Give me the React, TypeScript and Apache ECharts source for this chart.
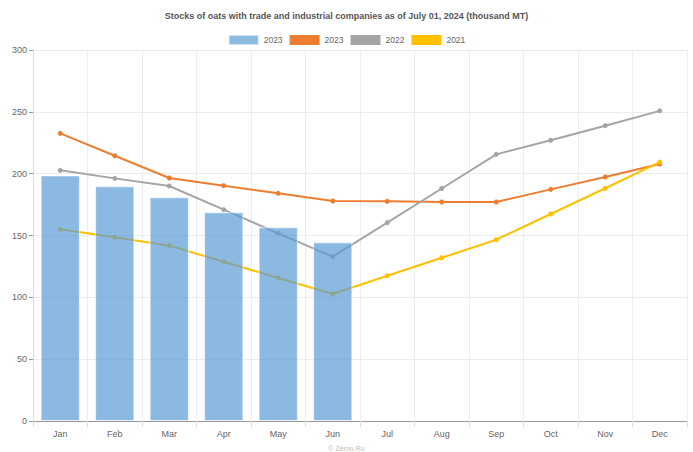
import React, { useEffect, useRef } from "react";
import * as echarts from "echarts";

const months = ["Jan", "Feb", "Mar", "Apr", "May", "Jun", "Jul", "Aug", "Sep", "Oct", "Nov", "Dec"];
const bars2023 = [198.6, 189.8, 180.9, 168.8, 156.6, 144.5];
const line2023 = [232.6, 214.5, 196.5, 190.3, 184.1, 177.9, 177.6, 177.1, 177.1, 187.3, 197.3, 207.8];
const line2022 = [202.7, 196.2, 190.0, 170.9, 151.7, 132.9, 160.4, 188.0, 215.6, 227.0, 238.8, 250.8];
const line2021 = [155.0, 148.5, 141.8, 128.8, 115.6, 102.7, 117.5, 132.0, 146.6, 167.4, 188.2, 209.4];
const yTicks = { min: 0, max: 300, interval: 50 };

const font = "'Liberation Sans', Arial, sans-serif";

export default function App() {
  const ref = useRef<HTMLDivElement>(null);
  useEffect(() => {
    const chart = echarts.init(ref.current!, null, { renderer: "svg" });
    const lineSeries = (name: string, data: number[], color: string, z: number) => ({
      name,
      type: "line",
      data,
      z,
      symbol: "circle",
      symbolSize: 5,
      lineStyle: { color, width: 2 },
      itemStyle: { color },
    });
    chart.setOption({
      animation: false,
      textStyle: { fontFamily: font },
      title: {
        text: "Stocks of oats with trade and industrial companies as of July 01, 2024 (thousand MT)",
        left: "center",
        top: 6,
        textStyle: { fontSize: 9, fontWeight: "bold", color: "#555", fontFamily: font },
      },
      legend: {
        top: 29,
        left: "center",
        icon: "rect",
        itemWidth: 30,
        itemHeight: 10,
        itemGap: 7,
        textStyle: { fontSize: 8.5, color: "#666", fontFamily: font },
        formatter: (n: string) => n.trim(),
        data: ["2023", "2023 ", "2022", "2021"],
      },
      grid: { left: 33, right: 6, top: 50, bottom: 31, containLabel: false },
      xAxis: {
        type: "category",
        data: months,
        boundaryGap: true,
        axisLine: { lineStyle: { color: "#999" } },
        axisTick: { show: true, lineStyle: { color: "#ddd" }, length: 6 },
        axisLabel: { fontSize: 9, color: "#666", margin: 8 },
        splitLine: { show: true, lineStyle: { color: "#ececec" } },
      },
      yAxis: {
        type: "value",
        min: yTicks.min,
        max: yTicks.max,
        interval: yTicks.interval,
        axisLine: { show: true, lineStyle: { color: "#ddd" } },
        axisTick: { show: true, length: 4, lineStyle: { color: "#999" } },
        axisLabel: { fontSize: 9, color: "#666", margin: 6 },
        splitLine: { show: true, lineStyle: { color: "#ececec" } },
      },
      series: [
        {
          name: "2023",
          type: "bar",
          data: bars2023,
          z: 5,
          barWidth: "72%",
          itemStyle: {
            color: "rgba(91,155,213,0.7)",
            borderColor: "rgba(255,255,255,0.6)",
            borderWidth: 1,
          },
        },
        lineSeries("2023 ", line2023, "#ED7D31", 3),
        lineSeries("2022", line2022, "#A5A5A5", 3),
        lineSeries("2021", line2021, "#FFC000", 3),
      ],
      graphic: [
        {
          type: "text",
          left: "center",
          top: 445,
          style: { text: "© Zerno.Ru", fontSize: 7, fill: "#bbb", fontFamily: font },
        },
      ],
    });
    return () => chart.dispose();
  }, []);
  return <div ref={ref} style={{ width: 693, height: 452, position: "absolute", left: 0, top: 0 }} />;
}
